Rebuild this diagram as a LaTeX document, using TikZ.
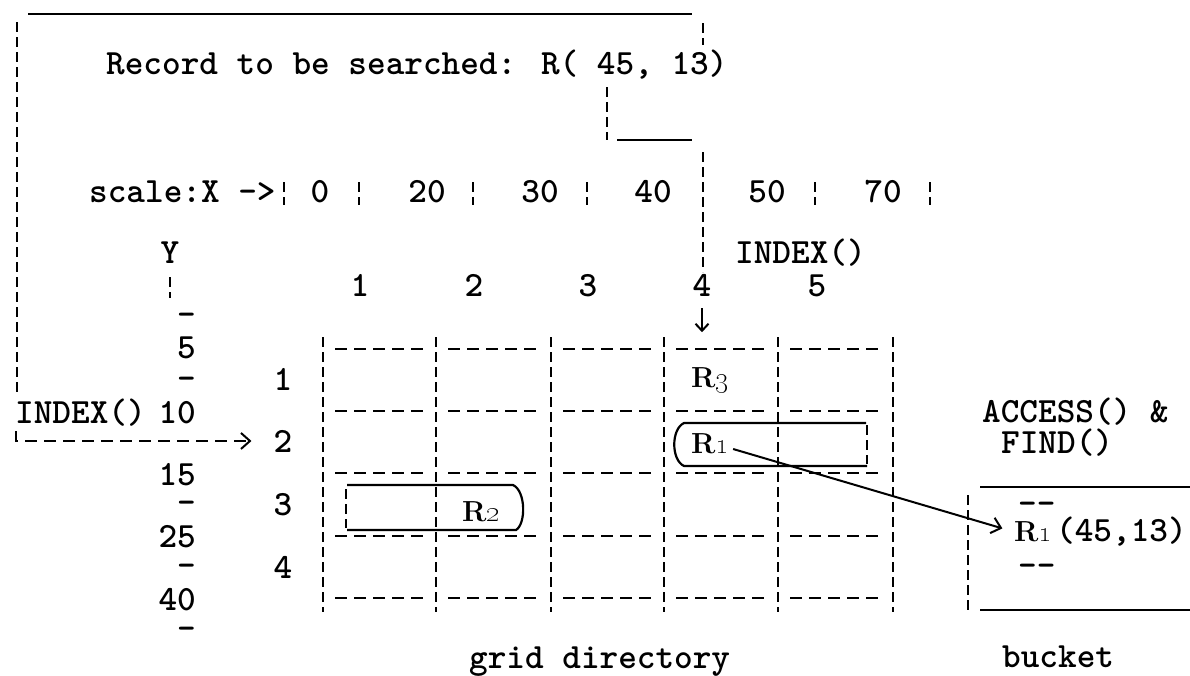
\documentclass[tikz,border=0pt]{standalone}
\usetikzlibrary{arrows.meta}
% typewriter text of the figure and the roman record labels
\newcommand\diagmono{\fontsize{35.5}{40}\fontseries{b}\selectfont\ttfamily}
\newcommand\diagrom{\fontsize{29}{32}\fontseries{bx}\selectfont\rmfamily}
\newcommand\reclabel[1]{R\oldstylenums{#1}}
\tikzset{
  txt/.style={font=\diagmono, inner sep=2pt, anchor=base},
  txtw/.style={txt, anchor=base west},
  txte/.style={txt, anchor=base east},
  tick/.style={txte, inner sep=0pt, text height=12pt, text depth=0pt},
  reclab/.style={font=\diagrom, inner sep=2pt},
  solidline/.style={line width=2.4pt},
  hdash/.style={line width=2.4pt, dash pattern=on 12pt off 7pt},
  vdash/.style={line width=2.4pt, dash pattern=on 10pt off 5pt},
  barb/.style={-{Straight Barb[length=9pt,width=16pt,line width=2pt]}},
  smallbarb/.style={-{Straight Barb[length=7pt,width=13pt,line width=2pt]}},
}
\begin{document}
\begin{tikzpicture}[x=1pt,y=-1pt]
\fill[white] (0,0) rectangle (1190,675);
\useasboundingbox (0,0) rectangle (1190,675);

% ---------- query record and the routing lines ----------
\node[txtw] (record) at (104,74) {Record to be searched: R( 45, 13)};
\coordinate (topL) at (28,14);
\coordinate (topR) at (692,14);
\draw[solidline] (topL) -- (topR);
\draw[vdash] (17,22) -- (17,393);
\draw[vdash] (703,23) -- (703,45);
\coordinate (xdrop) at (607,87);
\coordinate (xbend) at (607,140);
\draw[vdash] (xdrop) -- (xbend);
\draw[solidline] (617,140) -- (692,140);
\coordinate (xcol) at (703,152);
\coordinate (xcolend) at (703,272);
\draw[vdash] (xcol) -- (xcolend);

% ---------- linear scale on X ----------
\node[txtw] (scaleX) at (87,202) {scale:X ->};
\node[txt] (s0) at (320,202) {0};
\node[txt] (s20) at (427,202) {20};
\node[txt] (s30) at (540,202) {30};
\node[txt] (s40) at (653,202) {40};
\node[txt] (s50) at (767,202) {50};
\node[txt] (s70) at (883,202) {70};
\foreach \x in {284,359,473,587,815,930}
  \draw[vdash] (\x,182) -- (\x,205);

% ---------- linear scale on Y ----------
\node[txt] (ylab) at (170,263) {Y};
\draw[vdash] (170,277) -- (170,298);
\foreach \yy in {325,389,513,576,639}
  \node[tick] (ytick\yy) at (196,\yy) {-};
\node[txte] (y5) at (198,358) {5};
\node[txte] (y10) at (198,423) {10};
\node[txte] (y15) at (198,485) {15};
\node[txte] (y25) at (198,547) {25};
\node[txte] (y40) at (198,610) {40};

% ---------- INDEX() calls ----------
\node[txtw] (idxl) at (13,423) {INDEX()};
\node[txtw] (idxr) at (733,263) {INDEX()};

% ---------- grid directory ----------
\node[txt] (col1) at (360,296) {1};
\node[txt] (col2) at (474,296) {2};
\node[txt] (col3) at (588,296) {3};
\node[txt] (col4) at (702,296) {4};
\node[txt] (col5) at (817,296) {5};
\node[txt] (row1) at (283,390) {1};
\node[txt] (row2) at (283,452) {2};
\node[txt] (row3) at (283,515) {3};
\node[txt] (row4) at (283,578) {4};

\foreach \x in {323,436,551,664,778,893}
  \draw[vdash] (\x,337) -- (\x,612);
\foreach \y in {349,411,473,536,598}
  \foreach \a/\b in {323/436,436/551,551/664,664/778,778/893}
    \draw[hdash] (\a+12,\y) -- (\b-12,\y);

% row and column selected by INDEX()
\coordinate (lcorner) at (16,431);
\draw[hdash, barb, shorten >=20pt] (lcorner) |- (row2.west);
\draw[solidline, line width=2pt, smallbarb] ([yshift=-10pt]col4.south) -- ++(0,24);

% records and their regions
\node[reclab] (r3) at (710,380) {\reclabel{3}};
\node[reclab] (r1) at (710,444) {\reclabel{1}};
\node[reclab] (r2) at (481,512) {\reclabel{2}};
\draw[solidline, line width=2.2pt] (866,423) -- (684,423)
  .. controls (671,429) and (671,460) .. (684,466) -- (867,466);
\draw[vdash, line width=2.2pt] (867,425) -- (867,464);
\draw[solidline, line width=2.2pt] (347,485) -- (513,485)
  .. controls (526,491) and (526,524) .. (516,530) -- (347,530);
\draw[vdash, line width=2.2pt] (346,489) -- (346,528);

% ---------- bucket ----------
\node[txtw] (acc) at (980,422) {ACCESS() \&};
\node[txtw] (find) at (999,453) {FIND()};
\draw[solidline] (980,487) -- (1190,487);
\draw[solidline] (980,610) -- (1190,610);
\draw[vdash] (968,495) -- (968,611);
\node[txtw] (bd1) at (1016,514) {-{}-};
\node[reclab, anchor=base west] (b1) at (1012,541) {\reclabel{1}};
\node[txtw] (bval) at (1054,541) {(45,13)};
\node[txtw] (bd2) at (1016,576) {-{}-};

\draw[line width=2pt, barb, shorten >=10pt] ([xshift=2pt,yshift=-5pt]r1.east) -- (b1.west);

% ---------- captions ----------
\node[txtw] (gdir) at (467,668) {grid directory};
\node[txtw] (bkt) at (1000,667) {bucket};
\end{tikzpicture}
\end{document}
